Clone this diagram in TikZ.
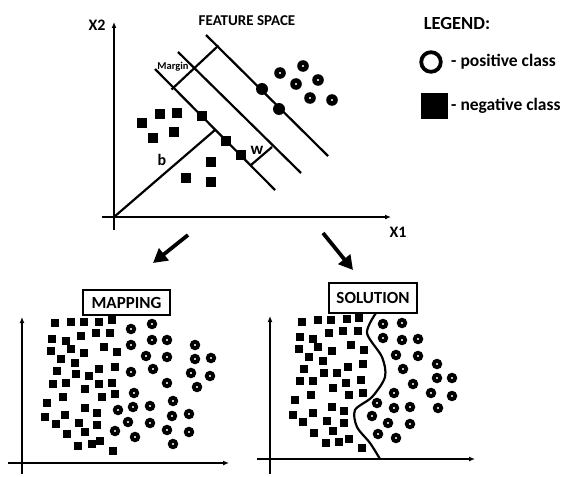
\documentclass[tikz,border=0pt]{standalone}
\usepackage{fontspec}
\setmainfont{Carlito}
\usetikzlibrary{arrows.meta}

\begin{document}
\begin{tikzpicture}[x=1pt,y=-1pt,
    axis/.style={line width=2.1pt,-{Latex[length=6pt,width=5pt]}},
    sepline/.style={line width=2.2pt},
    bigarrow/.style={line width=3.8pt,-{Triangle[length=14pt,width=15pt]}},
    lbl/.style={font=\bfseries\fontsize{15}{15}\selectfont,inner sep=0pt},
    titlebox/.style={draw,line width=2.6pt,fill=white,inner sep=0pt,
        font=\bfseries\fontsize{17}{17}\selectfont}]
\useasboundingbox (0,0) rectangle (585,476);

% feature space
\draw[axis] (114,230) -- (114,22);      % X2
\draw[axis] (102,217) -- (391,217);     % X1
\node[lbl,font=\bfseries\fontsize{16}{16}\selectfont] (xtwo) at (97,25) {X2};
\node[lbl,font=\bfseries\fontsize{16}{16}\selectfont] (xone) at (398,232) {X1};
\node[lbl] (fspace) at (247,21) {FEATURE SPACE};
\draw[sepline] (155,69) -- (275,190);   % negative side
\draw[sepline] (178,52) -- (301,173);   % hyperplane
\draw[sepline] (206,35) -- (328,156);   % positive side
\draw[sepline] (171.5,89.5) -- (218.5,45.5); % margin
\draw[sepline] (251,165) -- (272,147);  % w
\draw[sepline] (114,217) -- (215,130);  % b
\node[lbl,font=\bfseries\fontsize{10.5}{10.5}\selectfont] (margin) at (173,67) {Margin};
\node[lbl,font=\bfseries\fontsize{17}{17}\selectfont] (w) at (257,150) {w};
\node[lbl,font=\bfseries\fontsize{16}{16}\selectfont] (b) at (162,160) {b};
\foreach \x/\y in {142/123,160/114,177/113,153/138,174/132,202/116,226/141,
    241/155,211/162,186/178,211/182}
  \fill (\x-4.8,\y-4.8) rectangle (\x+4.8,\y+4.8);
\foreach \x/\y in {280/73,303/66,296/84,318/80,310/98,332/100}
  \fill[even odd rule] (\x,\y) circle (5.8pt) (\x,\y) circle (1.4pt);
\fill (262,89) circle (6pt);
\fill (279,109) circle (6pt);

% legend
\node[lbl,font=\bfseries\fontsize{18.5}{18.5}\selectfont] (legend) at (457,23) {LEGEND:};
\draw[line width=3.8pt,fill=white] (431,62) circle (9.8pt);
\fill (421,93) rectangle (448,119);
\node[lbl,anchor=west,font=\bfseries\fontsize{17.5}{17.5}\selectfont] (pos) at (451,62) {- positive class};
\node[lbl,anchor=west,font=\bfseries\fontsize{17.5}{17.5}\selectfont] (neg) at (451,106) {- negative class};

% arrows down
\coordinate (la) at (188,235);
\coordinate (lb) at (153,263);
\coordinate (ra) at (323,233);
\coordinate (rb) at (353,270);
\draw[bigarrow] (la) -- (lb);
\draw[bigarrow] (ra) -- (rb);

% mapping
\draw[axis] (22,474) -- (22,317);
\draw[axis] (8,463) -- (229,463);
\foreach \x/\y in {55/323,71/322,84/322,99/322,112/320,52/339,66/341,81/336,
    96/333,110/333,51/351,71/349,84/353,104/347,117/352,61/359,75/363,57/371,
    76/374,89/376,99/369,115/367,53/384,66/383,85/389,99/384,112/383,63/397,
    102/397,115/394,47/403,85/408,97/413,45/417,65/415,79/423,97/425,56/424,
    67/434,85/432,78/446,92/444,100/441,113/451}
  \fill (\x-4,\y-4) rectangle (\x+4,\y+4);
\foreach \x/\y in {131/329,152/324,131/345,152/340,167/340,146/356,167/357,
    195/345,195/359,211/358,131/372,153/369,191/373,210/376,167/383,197/387,
    134/393,173/401,118/410,133/407,150/406,172/416,189/414,128/422,150/423,
    167/430,189/432,115/431,135/437,173/444}
  \fill[even odd rule] (\x,\y) circle (5.3pt) (\x,\y) circle (1.3pt);
\node[titlebox,minimum width=87pt,minimum height=25pt] (mapping) at (126.5,302.5) {MAPPING};

% solution
\draw[axis] (270,474) -- (270,316);
\draw[axis] (257,459) -- (475,459);
\foreach \x/\y in {302/322,318/320,331/320,347/319,359/318,300/337,313/339,
    329/333,343/331,358/331,299/349,318/347,332/351,351/345,364/350,309/357,
    323/361,304/369,324/373,337/373,348/367,363/364,300/381,313/381,333/388,
    346/383,361/380,311/395,349/395,363/393,295/400,332/407,344/411,293/415,
    313/413,327/421,344/423,303/422,314/433,333/431,326/443,339/442,349/439,
    362/448}
  \fill (\x-4,\y-4) rectangle (\x+4,\y+4);
\foreach \x/\y in {383/324,402/323,383/338,402/340,418/339,396/355,418/356,
    437/364,437/378,452/378,403/369,413/384,431/393,452/396,394/393,438/408,
    377/403,394/408,410/407,372/416,388/423,410/424,378/434,396/438}
  \fill[even odd rule] (\x,\y) circle (5.3pt) (\x,\y) circle (1.3pt);
\draw[sepline] plot[smooth] coordinates {(376,313) (367,333) (382,357) (385,377)
    (372,397) (355,410) (357,427) (370,443) (380,459)};
\node[titlebox,minimum width=88pt,minimum height=30pt] (solution) at (373,298) {SOLUTION};
\end{tikzpicture}
\end{document}
